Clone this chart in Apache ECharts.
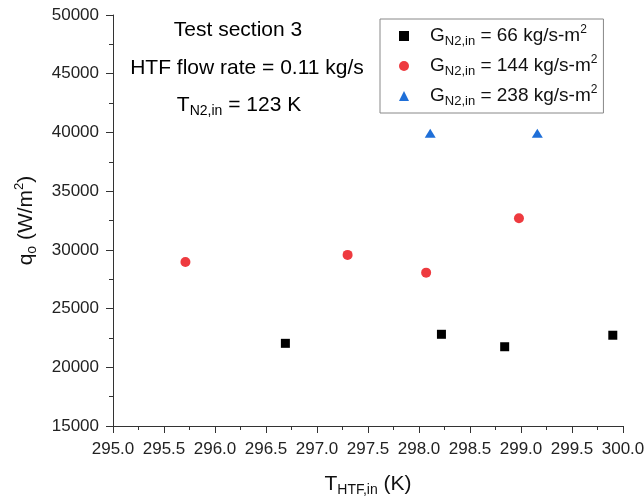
<!DOCTYPE html>
<html>
<head>
<meta charset="utf-8">
<script src="https://cdn.jsdelivr.net/npm/echarts@6/dist/echarts.min.js"></script>
<style>
  html, body { margin: 0; padding: 0; background: #fff; }
  #chart { width: 644px; height: 497px; }
</style>
</head>
<body>
<div id="chart"></div>
<script>
// data
var xTicks = [295.0, 295.5, 296.0, 296.5, 297.0, 297.5, 298.0, 298.5, 299.0, 299.5, 300.0];
var yTicks = [15000, 20000, 25000, 30000, 35000, 40000, 45000, 50000];

var g66X = [296.69, 298.22, 298.84, 299.90];
var g66Y = [22040, 22810, 21750, 22730];

var g144X = [295.71, 297.30, 298.07, 298.98];
var g144Y = [28970, 29570, 28060, 32690];

var g238X = [298.11, 299.16];
var g238Y = [39930, 39930];

var seriesNames = ['66', '144', '238'];

function pairs(xs, ys) {
    var out = [];
    for (var i = 0; i < xs.length; i++) out.push([xs[i], ys[i]]);
    return out;
}

var FONT = 'Liberation Sans, Arial, sans-serif';
// big text (annotations, axis names)
var rich = {
    m: { fontSize: 21, fontFamily: FONT, color: '#111', lineHeight: 26 },
    s: { fontSize: 14, fontFamily: FONT, color: '#111', lineHeight: 14, verticalAlign: 'bottom' },
    p: { fontSize: 13, fontFamily: FONT, color: '#111', lineHeight: 14, verticalAlign: 'top' }
};
// legend text
var legRich = {
    g: { width: 16 },
    m: { fontSize: 19, fontFamily: FONT, color: '#111', lineHeight: 24 },
    s: { fontSize: 13, fontFamily: FONT, color: '#111', lineHeight: 13, verticalAlign: 'bottom' },
    p: { fontSize: 12, fontFamily: FONT, color: '#111', lineHeight: 13, verticalAlign: 'top' }
};

var chart = echarts.init(document.getElementById('chart'));

chart.setOption({
    animation: false,
    grid: { left: 113, right: 21, top: 15, bottom: 71, outerBoundsMode: 'none', containLabel: false },
    graphic: [
        {
            type: 'text', x: 238, y: 30,
            style: { text: '{m|Test section 3}', rich: rich, align: 'center', verticalAlign: 'middle' }
        },
        {
            type: 'text', x: 247, y: 68,
            style: { text: '{m|HTF flow rate = 0.11 kg/s}', rich: rich, align: 'center', verticalAlign: 'middle' }
        },
        {
            type: 'text', x: 239, y: 105,
            style: { text: '{m|T}{s|N2,in}{m| = 123 K}', rich: rich, align: 'center', verticalAlign: 'middle' }
        }
    ],
    legend: {
        orient: 'vertical',
        left: 380,
        top: 19,
        padding: [5, 6, 5, 19],
        itemGap: 6,
        itemWidth: 10,
        itemHeight: 10,
        borderColor: '#888',
        borderWidth: 1,
        data: seriesNames,
        formatter: function (name) {
            return '{g|}{m|G}{s|N2,in}{m| = ' + name + ' kg/s-m}{p|2}';
        },
        textStyle: { rich: legRich }
    },
    xAxis: {
        type: 'value',
        min: 295,
        max: 300,
        interval: 0.5,
        name: '{m|T}{s|HTF,in}{m| (K)}',
        nameLocation: 'middle',
        nameGap: 45,
        nameTextStyle: { rich: rich },
        axisLine: { lineStyle: { color: '#333', width: 1 } },
        axisTick: { length: 7, lineStyle: { color: '#333' } },
        minorTick: { show: true, splitNumber: 2, length: 4, lineStyle: { color: '#333' } },
        splitLine: { show: false },
        axisLabel: {
            fontSize: 17, fontFamily: FONT, color: '#222', margin: 15,
            formatter: function (v) { return v.toFixed(1); }
        }
    },
    yAxis: {
        type: 'value',
        min: yTicks[0],
        max: yTicks[yTicks.length - 1],
        interval: 5000,
        name: '{m|q}{s|o}{m| (W/m}{p|2}{m|)}',
        nameLocation: 'middle',
        nameGap: 74,
        nameRotate: 90,
        nameTextStyle: { rich: rich },
        axisLine: { show: true, lineStyle: { color: '#333', width: 1 } },
        axisTick: { show: true, length: 7, lineStyle: { color: '#333' } },
        minorTick: { show: true, splitNumber: 2, length: 4, lineStyle: { color: '#333' } },
        splitLine: { show: false },
        axisLabel: {
            fontSize: 17, fontFamily: FONT, color: '#222', margin: 14,
            formatter: function (v) { return String(v); }
        }
    },
    series: [
        {
            name: '66', type: 'scatter', symbol: 'rect', symbolSize: 9,
            itemStyle: { color: '#000', opacity: 1 },
            data: pairs(g66X, g66Y)
        },
        {
            name: '144', type: 'scatter', symbol: 'circle', symbolSize: 10,
            itemStyle: { color: '#ee3a3f', opacity: 1 },
            data: pairs(g144X, g144Y)
        },
        {
            name: '238', type: 'scatter', symbol: 'triangle', symbolSize: [11, 9],
            itemStyle: { color: '#1f6fd8', opacity: 1 },
            data: pairs(g238X, g238Y)
        }
    ]
});
</script>
</body>
</html>
